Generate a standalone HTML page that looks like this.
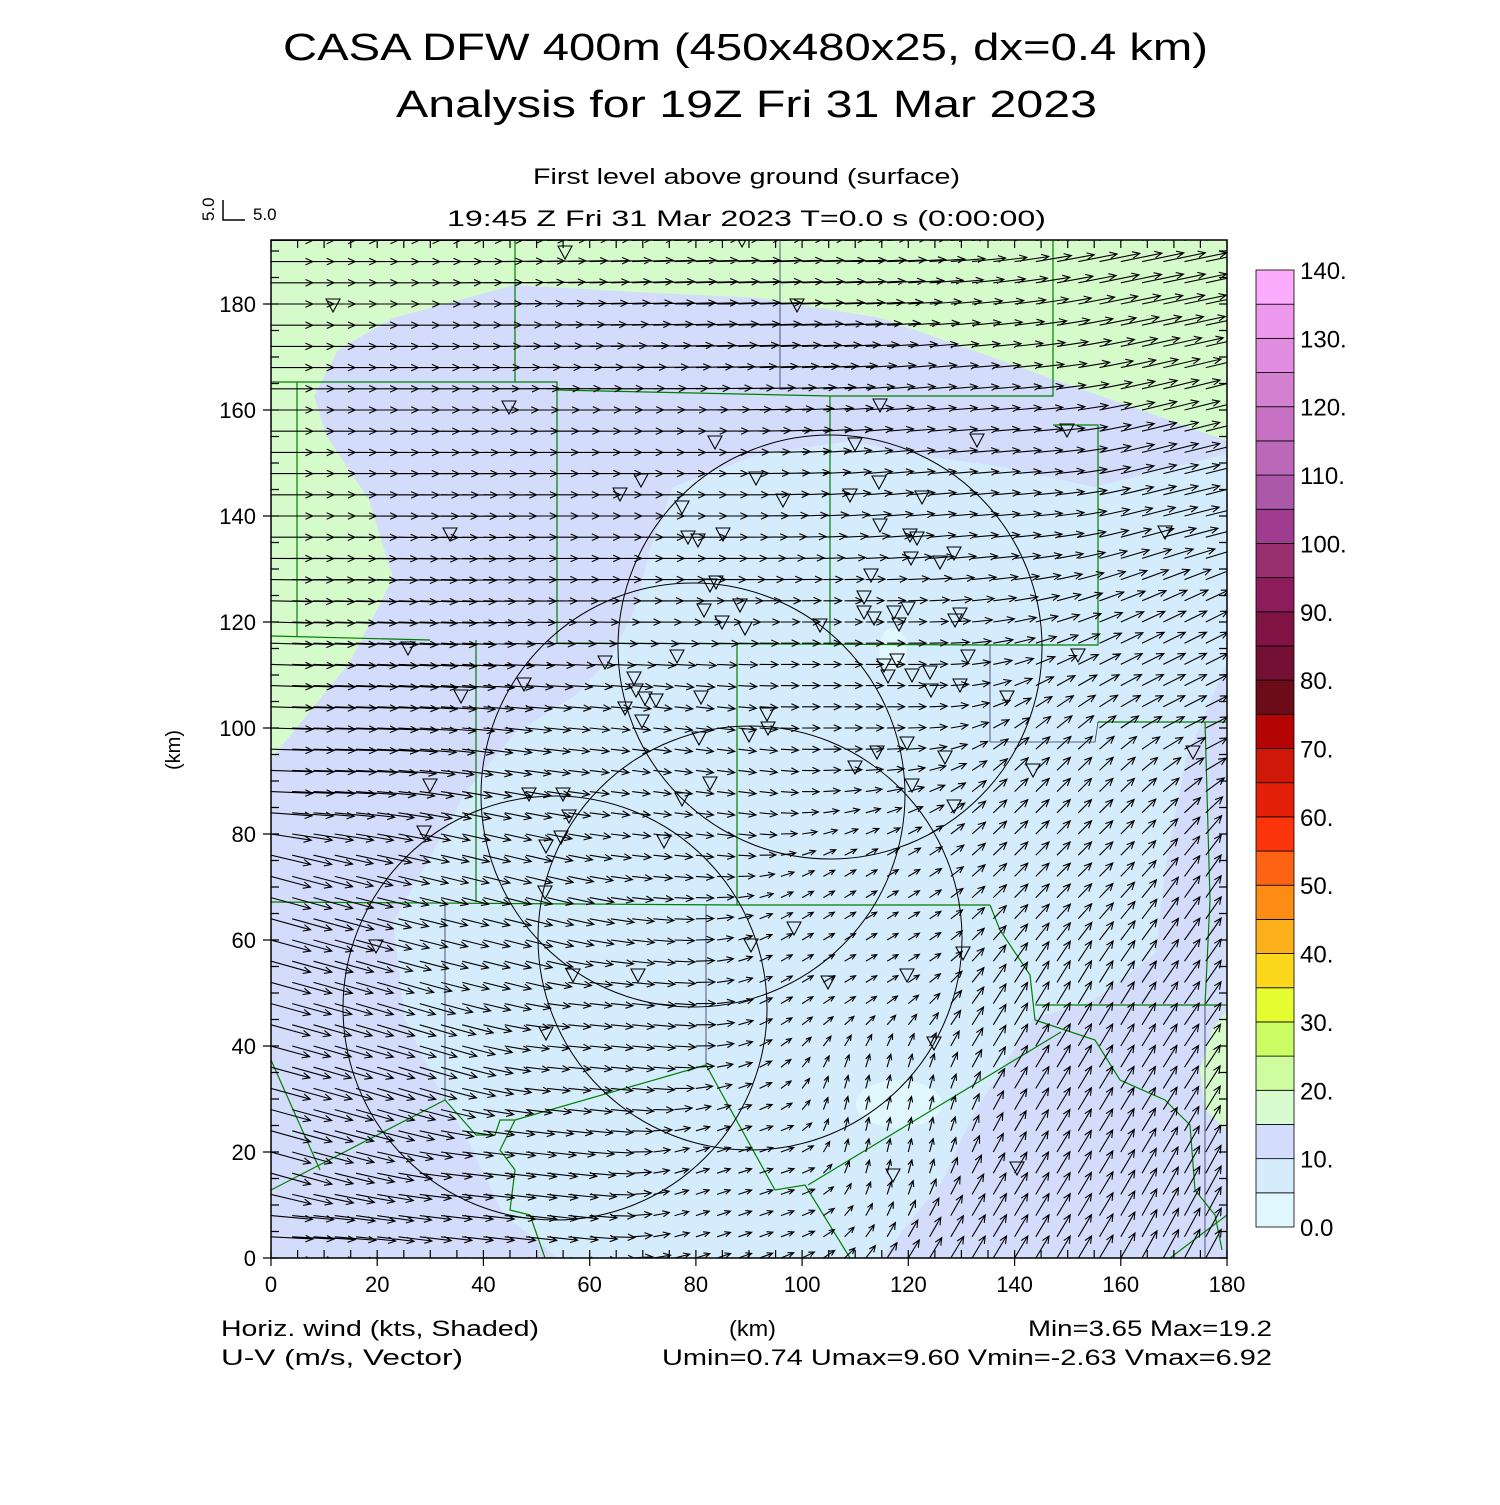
<!DOCTYPE html>
<html><head><meta charset="utf-8"><style>
html,body{margin:0;padding:0;background:#fff;}
svg text{font-family:"Liberation Sans",sans-serif;fill:#000;}
</style></head><body>
<svg id="s" width="1500" height="1500" viewBox="0 0 1500 1500" xmlns="http://www.w3.org/2000/svg">
<rect width="1500" height="1500" fill="#fff"/>
<text x="283" y="60" font-size="38" textLength="925" lengthAdjust="spacingAndGlyphs">CASA DFW 400m (450x480x25, dx=0.4 km)</text>
<text x="396" y="117" font-size="38" textLength="701" lengthAdjust="spacingAndGlyphs">Analysis for 19Z Fri 31 Mar 2023</text>
<text x="533" y="184" font-size="22" textLength="427" lengthAdjust="spacingAndGlyphs">First level above ground (surface)</text>
<text x="447" y="226" font-size="22" textLength="599" lengthAdjust="spacingAndGlyphs">19:45 Z Fri 31 Mar 2023   T=0.0 s (0:00:00)</text>
<text transform="translate(214,221) rotate(-90)" font-size="17">5.0</text>
<path d="M223 200 V220 H245" stroke="#000" stroke-width="1.5" fill="none"/>
<text x="253" y="220" font-size="17">5.0</text>
<clipPath id="cp"><rect x="271" y="240" width="956" height="1018"/></clipPath>
<g clip-path="url(#cp)">
<rect x="271" y="240" width="956" height="1018" fill="#d4dcfc"/>
<path fill="#d6fbca" d="M271 759 L350 662 L393 578 L369 500 L326 435 L314 396 L338 350 L393 318 L515 285 L637 292 L759 298 L881 318 L972 350 L1064 383 L1155 415 L1227 441 L1227 240 L271 240 Z"/>
<path fill="#d4ecfc" d="M673 487 L759 454 L850 441 L911 454 L1003 467 L1094 487 L1227 454 L1227 662 L1186 759 L1167 857 L1155 954 L1094 1000 L1033 1019 L972 1117 L942 1182 L881 1258 L558 1258 L503 1214 L472 1149 L436 1084 L405 1019 L393 922 L430 857 L466 792 L515 733 L576 695 L612 656 L637 604 L649 552 Z"/>
<ellipse cx="899" cy="1104" rx="43" ry="24" fill="#e0f7fe"/>
<ellipse cx="893" cy="650" rx="14" ry="22" fill="#e0f7fe"/>
<path fill="#d6fbca" d="M1227 1010 L1212 1030 L1200 1070 L1205 1110 L1227 1130 Z"/>
<g fill="none" stroke="#008000" stroke-width="1.2">
<path d="M271 382 L557 382 L557 643 L990 645 L1098 645 L1098 425 L1053 425"/>
<path d="M557 390 L830 396 L1053 396 L1053 240"/>
<path d="M515 240 V382"/>
<path d="M297 382 V636 M271 636 L430 640"/>
<path d="M476 640 V902 M271 902 L737 905 L990 905 M737 643 V905 M830 396 V645"/>
<path d="M990 905 L1000 930 L1030 975 L1035 1020 L1095 1040 L1120 1080 L1165 1100 L1190 1125 L1195 1190 L1215 1215 L1222 1250"/>
<path d="M1098 722 L1227 722 M1035 1005 L1227 1005 M1205 722 L1210 900 L1205 1005"/>
<path d="M445 1100 L271 1190 M271 1060 L320 1170 M445 1100 L476 1135 L495 1135 L500 1120 L515 1120 L706 1065 L775 1190 L805 1185 L850 1258"/>
<path d="M1061 1032 L808 1185 M1227 1215 L1170 1258"/>
<path d="M515 1120 L500 1150 L515 1170 L510 1210 L530 1215 L545 1258"/>
</g>
<g fill="none" stroke="#30305a" stroke-width="0.8">
<path d="M780 240 V390 M445 902 V1100 M706 905 V1065 M990 645 V742 L1095 742 L1098 722 M1205 1005 V1258"/>
</g>
<g fill="none" stroke="#000" stroke-width="1">
<circle cx="830" cy="647" r="212"/>
<circle cx="693" cy="795" r="212"/>
<circle cx="750" cy="938" r="212"/>
<circle cx="555" cy="1008" r="212"/>
</g>
<g id="arr" fill="none" stroke="#000" stroke-width="1.1"></g>
<g id="tri" fill="none" stroke="#000" stroke-width="1.1"></g>
</g>
<rect x="271" y="240" width="956" height="1018" fill="none" stroke="#000" stroke-width="1.5"/>
<g id="ticks" stroke="#000" stroke-width="1.2"></g>
<g id="lab" font-size="22"></g>
<text transform="translate(180,770) rotate(-90)" font-size="20">(km)</text>
<text x="221" y="1336" font-size="22" textLength="318" lengthAdjust="spacingAndGlyphs">Horiz. wind (kts, Shaded)</text>
<text x="221" y="1365" font-size="22" textLength="242" lengthAdjust="spacingAndGlyphs">U-V (m/s, Vector)</text>
<text x="729" y="1336" font-size="22" textLength="47" lengthAdjust="spacingAndGlyphs">(km)</text>
<text x="1028" y="1336" font-size="22" textLength="244" lengthAdjust="spacingAndGlyphs">Min=3.65 Max=19.2</text>
<text x="662" y="1365" font-size="22" textLength="610" lengthAdjust="spacingAndGlyphs">Umin=0.74 Umax=9.60 Vmin=-2.63 Vmax=6.92</text>
<g id="cb"></g>
</svg>
<script>
var NS="http://www.w3.org/2000/svg";
function el(p,t,a,txt){var e=document.createElementNS(NS,t);for(var k in a)e.setAttribute(k,a[k]);if(txt!==undefined)e.textContent=txt;p.appendChild(e);return e;}
var X0=271,Y0=1258,SX=956/180,SY=5.3;
// wind control points
var cp=[[0,192,9.5,0],[90,192,9.5,0.3],[180,192,9.6,2],[180,150,8,2],[0,150,9.5,0],[0,100,9.5,-0.3],[0,60,9,-2.5],[0,20,9,-2.5],[0,0,9.5,-0.5],[40,10,7,-0.8],[40,60,6,-1.5],[70,140,7,0],[80,90,4,-0.5],[110,110,4,0],[110,60,2.5,1.5],[115,25,0.7,3],[90,15,3,1],[180,110,5,2.5],[150,80,3,3],[180,60,3.5,5],[180,0,3.5,6.5],[140,0,3,5],[150,40,3,5],[130,150,6,0.5],[60,40,5,-0.5],[20,40,8.5,-2.5]];
function wind(x,y){var su=0,sv=0,sw=0;for(var i=0;i<cp.length;i++){var dx=x-cp[i][0],dy=y-cp[i][1],d=dx*dx+dy*dy+1;var w=1/(d*d);su+=w*cp[i][2];sv+=w*cp[i][3];sw+=w;}return [su/sw,sv/sw];}
var d="";var S=4.4;
for(var j=0;j<=48;j++){for(var i=0;i<=45;i++){var x=i*4,y=j*4;var w=wind(x,y);
var px=X0+x*SX,py=Y0-y*SY;var ex=px+w[0]*S,ey=py-w[1]*S;var L=Math.hypot(ex-px,ey-py);if(L<1)continue;
var a=Math.atan2(ey-py,ex-px),h=Math.min(8,L*0.45),b=0.42;
d+="M"+px.toFixed(1)+" "+py.toFixed(1)+"L"+ex.toFixed(1)+" "+ey.toFixed(1)+"M"+(ex-h*Math.cos(a-b)).toFixed(1)+" "+(ey-h*Math.sin(a-b)).toFixed(1)+"L"+ex.toFixed(1)+" "+ey.toFixed(1)+"L"+(ex-h*Math.cos(a+b)).toFixed(1)+" "+(ey-h*Math.sin(a+b)).toFixed(1);}}
el(document.getElementById("arr"),"path",{d:d});
var tr=[[565,252],[742,240],[333,305],[797,305],[509,407],[880,405],[1067,430],[715,442],[855,444],[977,440],[641,480],[756,478],[879,482],[620,494],[850,495],[922,497],[783,500],[682,507],[450,534],[1165,532],[688,537],[698,540],[723,534],[880,525],[910,535],[917,538],[954,553],[940,562],[911,558],[871,575],[716,582],[710,585],[864,597],[864,612],[874,618],[894,612],[908,608],[899,624],[960,614],[955,620],[820,625],[704,610],[740,605],[722,622],[745,628],[408,648],[605,662],[634,678],[677,656],[884,665],[897,660],[912,675],[930,672],[968,656],[888,676],[931,690],[960,685],[524,684],[461,696],[636,690],[645,698],[656,700],[625,708],[701,697],[642,721],[767,714],[768,728],[749,735],[699,738],[877,752],[907,743],[1007,697],[1078,655],[1193,752],[945,757],[855,767],[1033,770],[430,785],[529,794],[563,794],[710,783],[682,799],[912,785],[954,806],[569,816],[424,832],[561,837],[664,841],[546,846],[376,946],[545,892],[794,928],[751,945],[963,953],[573,975],[638,975],[828,982],[907,975],[546,1033],[934,1043],[1017,1168],[893,1175]];
var td="";tr.forEach(function(p){td+="M"+(p[0]-7)+" "+(p[1]-6)+"h14l-7 13z";});
el(document.getElementById("tri"),"path",{d:td});
var tk="";
for(var k=0;k<=180;k+=5){var x=X0+k*SX;var m=(k%20==0);tk+="M"+x.toFixed(1)+" 240v8M"+x.toFixed(1)+" 1258v-8";if(m)tk+="M"+x.toFixed(1)+" 1258v8";}
for(var k=0;k<=190;k+=5){var y=Y0-k*SY;var m=(k%20==0);tk+="M271 "+y.toFixed(1)+"h8M1227 "+y.toFixed(1)+"h-8";if(m)tk+="M271 "+y.toFixed(1)+"h-8";}
el(document.getElementById("ticks"),"path",{d:tk});
var lab=document.getElementById("lab");
for(var k=0;k<=180;k+=20){el(lab,"text",{x:X0+k*SX,y:1292,"text-anchor":"middle"},String(k));el(lab,"text",{x:256,y:(Y0-k*SY+8).toFixed(1),"text-anchor":"end"},String(k));}
var cols=["#e0f7fe","#d4ecfc","#d4dcfc","#d8fcd0","#d0fca0","#ccfc64","#e4fc30","#fcd81c","#fcb01c","#fc8c14","#fc6414","#fc340c","#e42008","#d01808","#b40404","#6c0c18","#741034","#801444","#8c1c5c","#983070","#a03c90","#ac58a8","#bc68b8","#c870c4","#d480d0","#e08ce0","#ec98ec","#fcacfc"];
var cb=document.getElementById("cb");var bh=957/28;
for(var i=0;i<28;i++){el(cb,"rect",{x:1256,y:(1227-(i+1)*bh).toFixed(2),width:38,height:bh.toFixed(2),fill:cols[i],stroke:"#000","stroke-width":"0.8"});}
for(var i=0;i<=14;i++){el(cb,"text",{x:1300,y:(1236-i*2*bh).toFixed(1),"font-size":"24"},i==0?"0.0":(i*10)+".");}
</script>
</body></html>
